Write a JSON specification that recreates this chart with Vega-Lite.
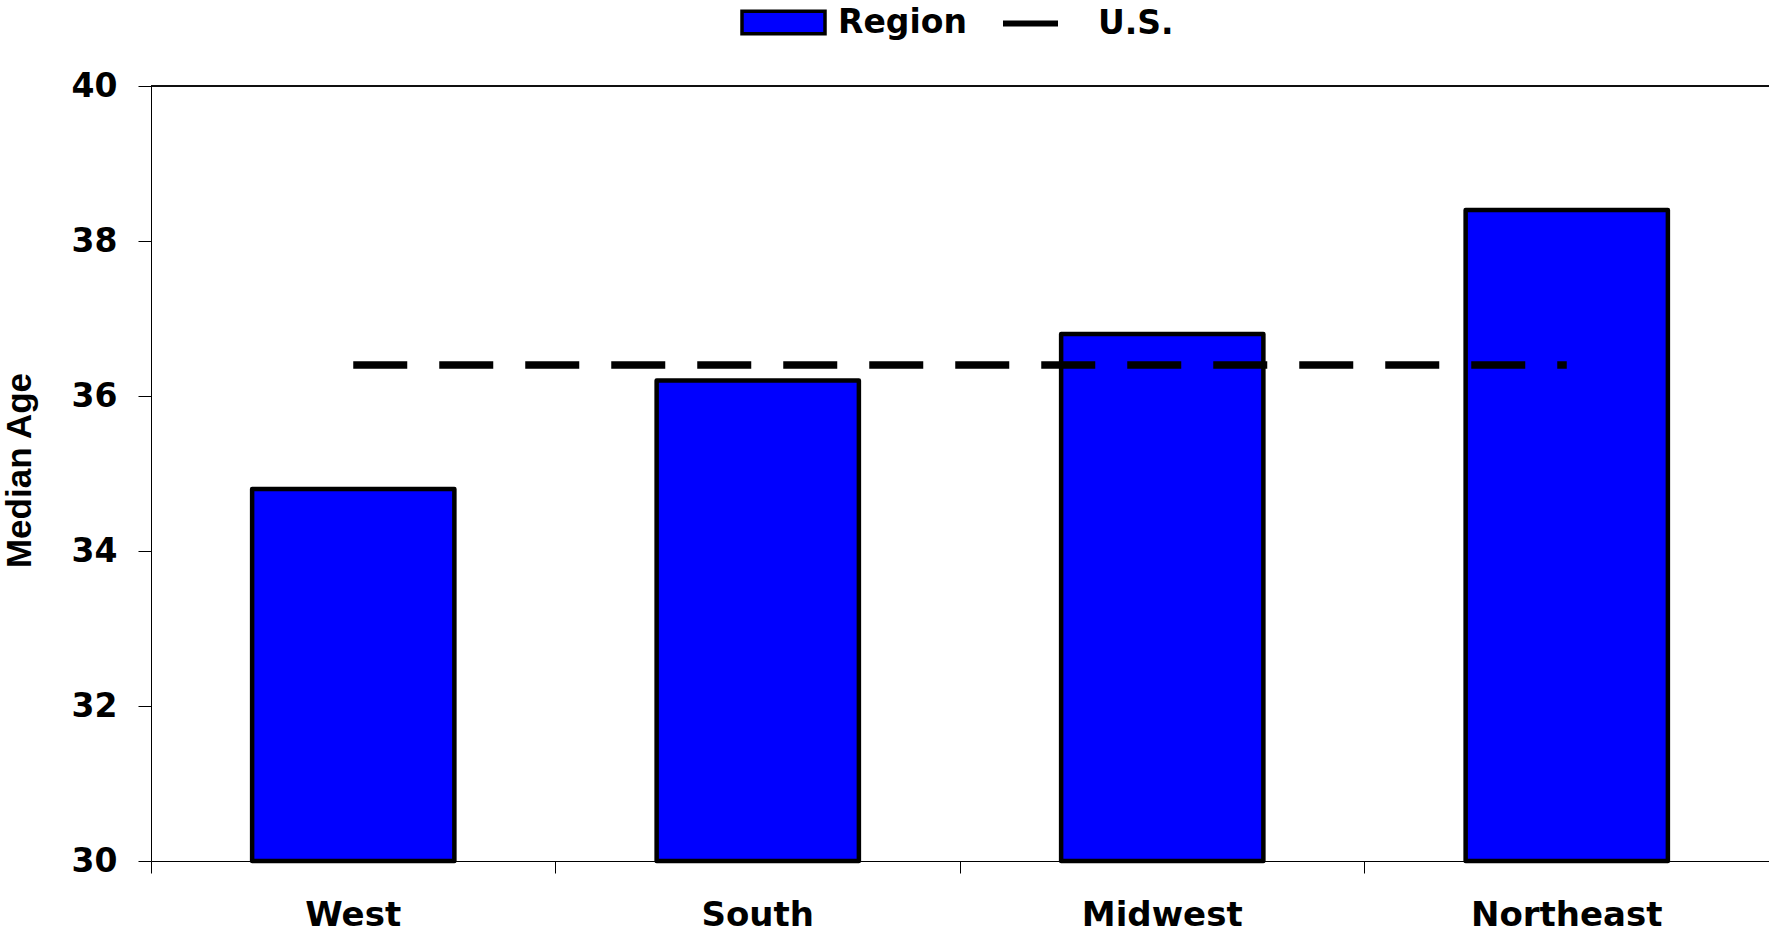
{
  "$schema": "https://vega.github.io/schema/vega-lite/v6.json",
  "width": 1618,
  "height": 775,
  "autosize": {"type": "none"},
  "padding": {"left": 151, "top": 86, "right": 0, "bottom": 71},
  "background": "white",
  "data": {
    "values": [
      {"region": "West", "age": 34.8, "us": 36.4},
      {"region": "South", "age": 36.2, "us": 36.4},
      {"region": "Midwest", "age": 36.8, "us": 36.4},
      {"region": "Northeast", "age": 38.4, "us": 36.4}
    ]
  },
  "encoding": {
    "x": {
      "field": "region",
      "type": "nominal",
      "sort": null,
      "scale": {"paddingInner": 0, "paddingOuter": 0},
      "axis": {
        "title": null,
        "labelAngle": 0,
        "bandPosition": 0,
        "tickSize": 12,
        "labelPadding": 25,
        "labelFontSize": 34,
        "labelLimit": 400
      }
    }
  },
  "layer": [
    {
      "mark": {"type": "rule", "color": "black", "strokeWidth": 1},
      "encoding": {"y": {"datum": 40, "type": "quantitative", "scale": {"domain": [30, 40], "nice": false, "zero": false}}, "x": null}
    },
    {
      "mark": {"type": "bar", "stroke": "black", "strokeWidth": 4.5, "strokeJoin": "round", "width": {"band": 0.5}},
      "encoding": {
        "y": {
          "field": "age",
          "type": "quantitative",
          "scale": {"domain": [30, 40], "nice": false, "zero": false},
          "axis": {
            "values": [30, 32, 34, 36, 38, 40],
            "format": "d",
            "tickSize": 13,
            "labelPadding": 21,
            "labelFontSize": 33,
            "title": "Median Age",
            "titleFont": "Liberation Sans",
            "titleFontSize": 35,
            "titleFontWeight": "bold",
            "titleColor": "black",
            "titleAngle": -90,
            "titleBaseline": "middle",
            "titleAlign": "center",
            "titleX": -132,
            "titleY": 384
          }
        },
        "y2": {"datum": 30},
        "fill": {
          "datum": "Region",
          "scale": {"range": ["#0000FF"]},
          "legend": {
            "title": null,
            "orient": "none",
            "legendX": 589,
            "legendY": -107,
            "symbolType": "M-1,-0.27H1V0.27H-1Z",
            "symbolSize": 6889,
            "symbolStrokeColor": "black",
            "symbolStrokeWidth": 3.5,
            "symbolOpacity": 1,
            "symbolFillColor": "#0000FF",
            "labelOffset": 11,
            "padding": 0
          }
        }
      }
    },
    {
      "mark": {"type": "line", "strokeWidth": 7.5, "strokeDash": [54, 32], "strokeCap": "butt"},
      "encoding": {
        "y": {"field": "us", "type": "quantitative"},
        "stroke": {
          "datum": "U.S.",
          "scale": {"range": ["black"]},
          "legend": {
            "title": null,
            "orient": "none",
            "legendX": 849,
            "legendY": -93,
            "symbolType": "stroke",
            "symbolSize": 3025,
            "symbolStrokeWidth": 6,
            "symbolDash": [],
            "labelOffset": 37,
            "padding": 0
          }
        }
      }
    }
  ],
  "config": {
    "view": {"stroke": null},
    "axis": {
      "grid": false,
      "domainColor": "black",
      "tickColor": "black",
      "domainWidth": 1,
      "tickWidth": 1,
      "labelFont": "DejaVu Sans",
      "labelFontWeight": "bold",
      "labelColor": "black"
    },
    "legend": {
      "labelFont": "DejaVu Sans",
      "labelFontWeight": "bold",
      "labelFontSize": 33,
      "labelColor": "black",
      "labelLimit": 400
    }
  }
}
